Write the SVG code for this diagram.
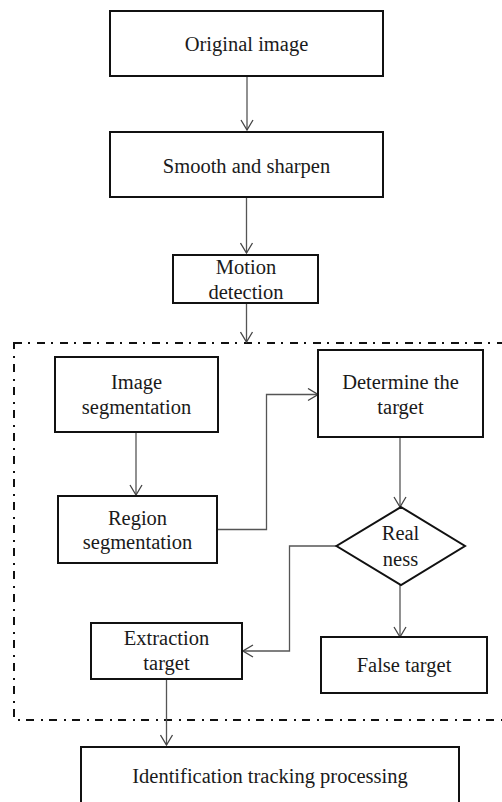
<svg xmlns="http://www.w3.org/2000/svg" width="502" height="802" viewBox="0 0 502 802">
<defs>
<marker id="arr" markerWidth="12" markerHeight="14" refX="11" refY="7" orient="auto" markerUnits="userSpaceOnUse">
<path d="M1,1 L11,7 L1,13" fill="none" stroke="#444" stroke-width="1.3"/>
</marker>
<style>
.box{fill:#fff;stroke:#111;stroke-width:2}
.t{font-family:"Liberation Serif","Times New Roman",serif;font-size:20.5px;fill:#1a1a1a;text-anchor:middle}
.c{fill:none;stroke:#555;stroke-width:1.3;marker-end:url(#arr)}
.grp{fill:none;stroke:#111;stroke-width:2;stroke-dasharray:8 6 2 7}
</style>
</defs>
<rect width="502" height="802" fill="#fff"/>
<rect id="group" class="grp" x="14" y="343" width="500" height="377"/>
<g id="connectors">
<path class="c" d="M247,76 V130"/>
<path class="c" d="M246.5,197 V253"/>
<path class="c" d="M246.5,303 V342"/>
<path class="c" d="M136,432 V495"/>
<path class="c" d="M217,529.5 H266.5 V394.5 H318"/>
<path class="c" d="M400,437 V507"/>
<path class="c" d="M336.5,546 H289.5 V651 H243"/>
<path class="c" d="M400,585 V637"/>
<path class="c" d="M166.5,679 V745"/>
</g>
<g id="original">
<rect class="box" x="110" y="11" width="273" height="65"/>
<text class="t" x="246.5" y="51">Original image</text>
</g>
<g id="smooth">
<rect class="box" x="110" y="132" width="273" height="65"/>
<text class="t" x="246.5" y="172.5">Smooth and sharpen</text>
</g>
<g id="motion">
<rect class="box" x="173" y="255" width="145" height="48"/>
<text class="t" x="246" y="273.5">Motion</text>
<text class="t" x="246" y="298.5">detection</text>
</g>
<g id="imgseg">
<rect class="box" x="55" y="357" width="163" height="75"/>
<text class="t" x="136.5" y="388.5">Image</text>
<text class="t" x="136.5" y="413.5">segmentation</text>
</g>
<g id="determine">
<rect class="box" x="318" y="350" width="165" height="87"/>
<text class="t" x="400.5" y="388.5">Determine the</text>
<text class="t" x="400.5" y="413.5">target</text>
</g>
<g id="regseg">
<rect class="box" x="58" y="496" width="159" height="67"/>
<text class="t" x="137.5" y="524.5">Region</text>
<text class="t" x="137.5" y="548.5">segmentation</text>
</g>
<g id="realness">
<polygon class="box" points="401,507 465,546 401,585 336.5,546"/>
<text class="t" x="400.5" y="540">Real</text>
<text class="t" x="400.5" y="565.5">ness</text>
</g>
<g id="extraction">
<rect class="box" x="91" y="623" width="151" height="56"/>
<text class="t" x="166.5" y="645">Extraction</text>
<text class="t" x="166.5" y="670">target</text>
</g>
<g id="false">
<rect class="box" x="321" y="637" width="166" height="56"/>
<text class="t" x="404" y="671.5">False target</text>
</g>
<g id="identification">
<rect class="box" x="81" y="747" width="378" height="70"/>
<text class="t" x="270" y="782.5">Identification tracking processing</text>
</g>
</svg>
